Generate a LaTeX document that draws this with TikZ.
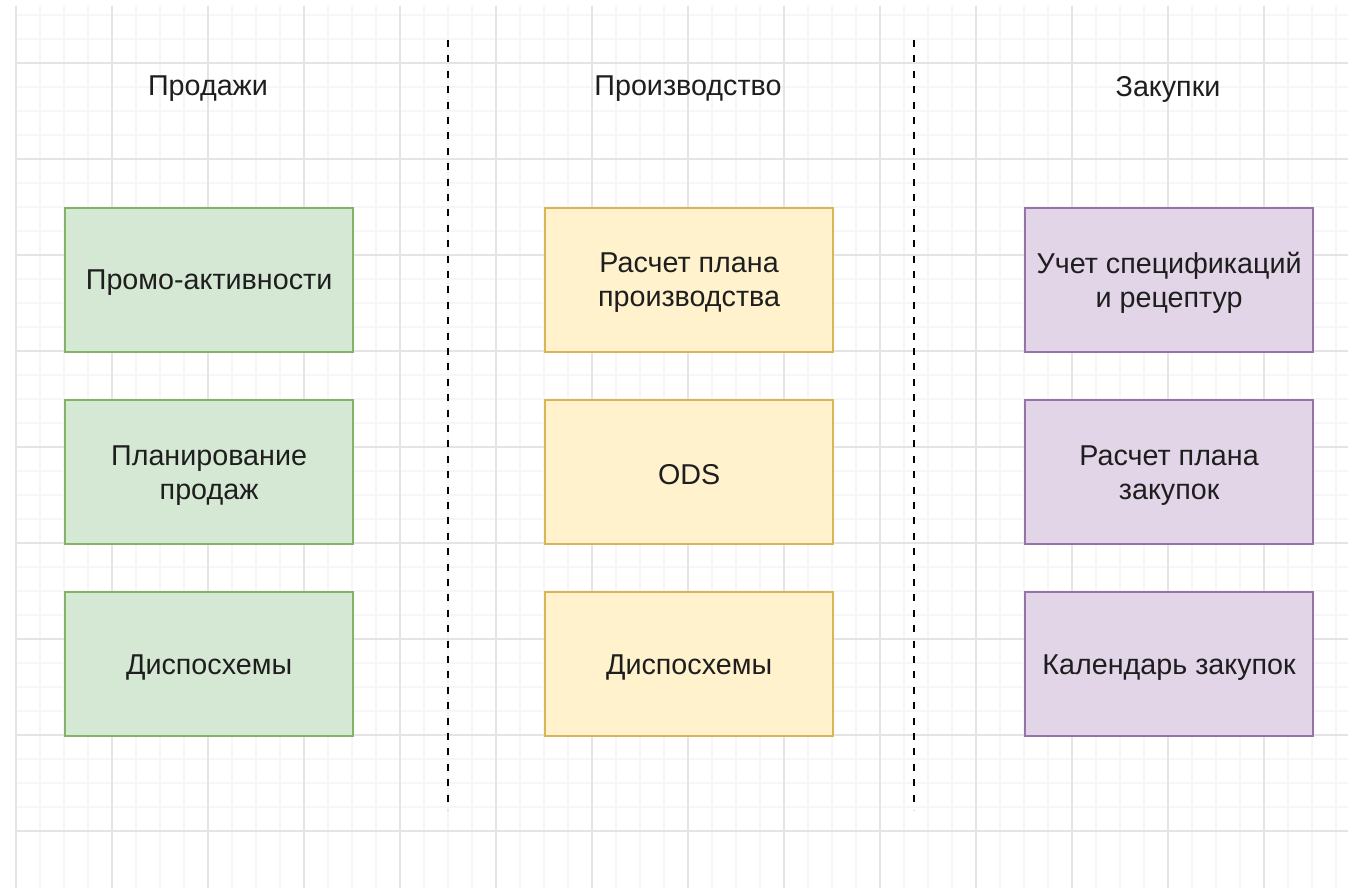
\documentclass[tikz,border=0pt]{standalone}
\usepackage{fontspec}
\setmainfont{Liberation Sans}
\definecolor{gminor}{HTML}{F6F6F6}
\definecolor{gmajor}{HTML}{E4E4E4}
\definecolor{gfill}{HTML}{D5E8D4}
\definecolor{gline}{HTML}{82B366}
\definecolor{yfill}{HTML}{FFF2CC}
\definecolor{yline}{HTML}{D6B656}
\definecolor{pfill}{HTML}{E1D5E7}
\definecolor{pline}{HTML}{9673A6}
\definecolor{txt}{HTML}{1E1E1E}
\begin{document}
\begin{tikzpicture}[x=1pt,y=-1pt,
  boxtext/.style={text=txt, font=\fontsize{28.7}{34}\selectfont, align=center, inner sep=0pt, yshift=-3pt},
  box/.style={draw, line width=2.2pt, minimum width=288pt, minimum height=144pt, inner sep=0pt, anchor=north west,
    label={[boxtext]center:#1}},
  sbox/.style={box=#1, fill=gfill, draw=gline},
  ybox/.style={box=#1, fill=yfill, draw=yline},
  vbox/.style={box=#1, fill=pfill, draw=pline},
  header/.style={text=txt, font=\fontsize{28.7}{34}\selectfont, inner sep=0pt},
  divider/.style={line width=2pt, dash pattern=on 7pt off 8.4pt, black}]
\useasboundingbox (0,0) rectangle (1348,888);
\fill[white] (0,0) rectangle (1348,888);
% grid
\foreach \i in {0,...,55} {\draw[gminor, line width=1.3pt] ({16+24*\i},6) -- ({16+24*\i},888);}
\foreach \j in {0,...,34} {\draw[gminor, line width=1.3pt] (16,{15+24*\j}) -- (1348,{15+24*\j});}
\foreach \i in {0,...,13} {\draw[gmajor, line width=1.6pt] ({16+96*\i},6) -- ({16+96*\i},888);}
\foreach \j in {0,...,8} {\draw[gmajor, line width=1.6pt] (16,{63+96*\j}) -- (1348,{63+96*\j});}
% headers
\node[header] (h1) at (208,89) {Продажи};
\node[header] (h2) at (688,89) {Производство};
\node[header] (h3) at (1168,89) {Закупки};
% dividers
\coordinate (d1t) at (448,40);
\coordinate (d1b) at (448,810);
\coordinate (d2t) at (914,40);
\coordinate (d2b) at (914,810);
\draw[divider] (d1t) -- (d1b);
\draw[divider] (d2t) -- (d2b);
% boxes
\node[sbox={Промо-активности}] (s1) at (64,207) {};
\node[sbox={Планирование\\продаж}] (s2) at (64,399) {};
\node[sbox={Диспосхемы}] (s3) at (64,591) {};
\node[ybox={Расчет плана\\производства}] (p1) at (544,207) {};
\node[ybox={ODS}] (p2) at (544,399) {};
\node[ybox={Диспосхемы}] (p3) at (544,591) {};
\node[vbox={Учет спецификаций\\и рецептур}] (z1) at (1024,207) {};
\node[vbox={Расчет плана\\закупок}] (z2) at (1024,399) {};
\node[vbox={Календарь закупок}] (z3) at (1024,591) {};
\end{tikzpicture}
\end{document}
